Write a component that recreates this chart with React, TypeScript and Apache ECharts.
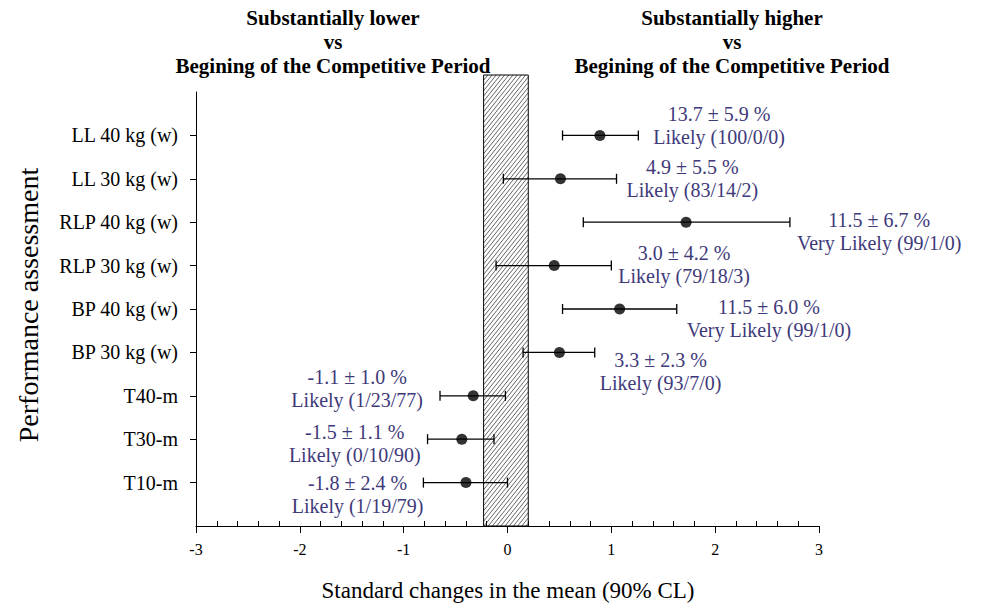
import React, { useEffect, useRef } from "react";
import * as echarts from "echarts";

// ---------- data ----------
const categories = [
  "LL 40 kg (w)",
  "LL 30 kg (w)",
  "RLP 40 kg (w)",
  "RLP 30 kg (w)",
  "BP 40 kg (w)",
  "BP 30 kg (w)",
  "T40-m",
  "T30-m",
  "T10-m",
];
const effectSize = [0.89, 0.51, 1.72, 0.45, 1.08, 0.5, -0.33, -0.44, -0.4];
const ciLower = [0.53, -0.04, 0.73, -0.11, 0.53, 0.15, -0.65, -0.77, -0.81];
const ciUpper = [1.26, 1.05, 2.72, 1.0, 1.63, 0.84, -0.02, -0.13, 0.0];
const pctMean = [13.7, 4.9, 11.5, 3.0, 11.5, 3.3, -1.1, -1.5, -1.8];
const pctCL = [5.9, 5.5, 6.7, 4.2, 6.0, 2.3, 1.0, 1.1, 2.4];
const inference = ["Likely", "Likely", "Very Likely", "Likely", "Very Likely", "Likely", "Likely", "Likely", "Likely"];
const chances = ["100/0/0", "83/14/2", "99/1/0", "79/18/3", "99/1/0", "93/7/0", "1/23/77", "0/10/90", "1/19/79"];
const trivialZone = [-0.23, 0.2];
const xMin = -3;
const xMax = 3;
const leftHeading = ["Substantially lower", "vs", "Begining of the Competitive Period"];
const rightHeading = ["Substantially higher", "vs", "Begining of the Competitive Period"];
const xTitle = "Standard changes in the mean (90% CL)";
const yTitle = "Performance assessment";

// ---------- layout (pixel nudges of the annotation blocks) ----------
const labelNudge: [number, number][] = [
  [15, -10],
  [10, 0],
  [7, 9],
  [7, -1],
  [10, 9],
  [5, 19],
  [17, -7],
  [7, 4],
  [0, 12],
];

const FONT = '"Times New Roman", "Liberation Serif", serif';
const LABEL_COLOR = "#40397a";

export default function App() {
  const ref = useRef<HTMLDivElement>(null);

  useEffect(() => {
    if (!ref.current) return;
    const chart = echarts.init(ref.current, null, { renderer: "svg" });

    const n = categories.length;
    // category axis: bottom-to-top, padded with empty slots at both ends
    const yData = ["", ...categories.slice().reverse(), ""];
    const yIndex = (i: number) => n - i;

    const barData = categories.map((_, i) => [effectSize[i], ciLower[i], ciUpper[i], yIndex(i)]);
    const pointData = categories.map((_, i) => [effectSize[i], yIndex(i)]);

    const option: any = {
      animation: false,
      textStyle: { fontFamily: FONT },
      grid: { left: 196, right: 163, top: 92, bottom: 79, containLabel: false },
      xAxis: {
        type: "value",
        min: xMin,
        max: xMax,
        interval: 1,
        axisLine: { show: true, onZero: false, lineStyle: { color: "#000", width: 1 } },
        axisTick: { show: true, length: 7, lineStyle: { color: "#000", width: 1 } },
        minorTick: { show: true, splitNumber: 5, length: -5, lineStyle: { color: "#000", width: 1 } },
        splitLine: { show: false },
        axisLabel: { color: "#000", fontSize: 16, fontFamily: FONT, margin: 15 },
      },
      yAxis: {
        type: "category",
        data: yData,
        boundaryGap: false,
        axisLine: { show: true, onZero: false, lineStyle: { color: "#000", width: 1 } },
        axisTick: {
          show: true,
          length: 6,
          interval: (_idx: number, value: string) => value !== "",
          lineStyle: { color: "#000", width: 1 },
        },
        axisLabel: { color: "#000", fontSize: 20, fontFamily: FONT, margin: 18, interval: 0 },
        splitLine: { show: false },
      },
      graphic: [
        {
          type: "text",
          x: 333,
          y: 42,
          style: {
            text: leftHeading.join("\n"),
            fontSize: 21,
            fontWeight: "bold",
            fontFamily: FONT,
            lineHeight: 24,
            fill: "#000",
            align: "center",
            verticalAlign: "middle",
            textAlign: "center",
            textVerticalAlign: "middle",
          },
        },
        {
          type: "text",
          x: 732,
          y: 42,
          style: {
            text: rightHeading.join("\n"),
            fontSize: 21,
            fontWeight: "bold",
            fontFamily: FONT,
            lineHeight: 24,
            fill: "#000",
            align: "center",
            verticalAlign: "middle",
            textAlign: "center",
            textVerticalAlign: "middle",
          },
        },
        {
          type: "text",
          x: 508,
          y: 590,
          style: {
            text: xTitle,
            fontSize: 23,
            fontFamily: FONT,
            fill: "#000",
            align: "center",
            verticalAlign: "middle",
            textAlign: "center",
            textVerticalAlign: "middle",
          },
        },
        {
          type: "text",
          x: 28,
          y: 305,
          rotation: Math.PI / 2,
          style: {
            text: yTitle,
            fontSize: 28,
            fontFamily: FONT,
            fill: "#000",
            align: "center",
            verticalAlign: "middle",
            textAlign: "center",
            textVerticalAlign: "middle",
          },
        },
      ],
      series: [
        {
          type: "custom",
          name: "trivial",
          clip: false,
          z: 1,
          silent: true,
          data: [[trivialZone[0], trivialZone[1]]],
          encode: { x: [0, 1] },
          renderItem: (_params: any, api: any) => {
            const bl = api.coord([api.value(0), 0]);
            const tr = api.coord([api.value(1), n + 1]);
            const left = bl[0];
            const right = tr[0];
            const bottom = bl[1];
            const top = tr[1] - 17;
            const H = bottom - top;
            const k = 1.25; // slope
            const span = H / k;
            const children: any[] = [];
            for (let c = left - span; c < right; c += 4.2) {
              const t0 = Math.max(0, left - c);
              const t1 = Math.min(span, right - c);
              if (t1 <= t0) continue;
              children.push({
                type: "line",
                shape: { x1: c + t0, y1: bottom - k * t0, x2: c + t1, y2: bottom - k * t1 },
                style: { stroke: "#222", lineWidth: 0.7 },
              });
            }
            children.push({
              type: "rect",
              shape: { x: left, y: top, width: right - left, height: H },
              style: { fill: "none", stroke: "#000", lineWidth: 1 },
            });
            return { type: "group", children };
          },
        },
        {
          type: "custom",
          name: "ci",
          clip: false,
          z: 2,
          data: barData,
          encode: { x: [0, 1, 2], y: 3 },
          renderItem: (params: any, api: any) => {
            const i = params.dataIndex;
            const yv = api.value(3);
            const p0 = api.coord([api.value(1), yv]);
            const p1 = api.coord([api.value(2), yv]);
            const cap = 5;
            const ls = { stroke: "#000", lineWidth: 1.3 };
            const children: any[] = [
              { type: "line", shape: { x1: p0[0], y1: p0[1], x2: p1[0], y2: p1[1] }, style: ls },
              { type: "line", shape: { x1: p0[0], y1: p0[1] - cap, x2: p0[0], y2: p0[1] + cap }, style: ls },
              { type: "line", shape: { x1: p1[0], y1: p1[1] - cap, x2: p1[0], y2: p1[1] + cap }, style: ls },
            ];
            const rightSide = api.value(0) >= 0;
            const [dx, dy] = labelNudge[i];
            const line1 = `${pctMean[i].toFixed(1)} ± ${pctCL[i].toFixed(1)} %`;
            const line2 = `${inference[i]} (${chances[i]})`;
            children.push({
              type: "text",
              x: rightSide ? p1[0] + dx : p0[0] - dx,
              y: p1[1] + dy,
              style: {
                text: `{c|${line1}}\n{c|${line2}}`,
                rich: {
                  c: { align: "center", fontSize: 20, fontFamily: FONT, fill: LABEL_COLOR, lineHeight: 23 },
                },
                fontSize: 20,
                fontFamily: FONT,
                fill: LABEL_COLOR,
                lineHeight: 23,
                align: rightSide ? "left" : "right",
                verticalAlign: "middle",
              },
            });
            return { type: "group", children };
          },
        },
        {
          type: "scatter",
          name: "effect",
          z: 3,
          symbol: "circle",
          symbolSize: 11,
          itemStyle: { color: "#000" },
          data: pointData,
        },
      ],
    };

    chart.setOption(option);
    return () => chart.dispose();
  }, []);

  return (
    <div
      ref={ref}
      style={{ position: "fixed", left: 0, top: 0, width: 982, height: 605, background: "#fff" }}
    />
  );
}
